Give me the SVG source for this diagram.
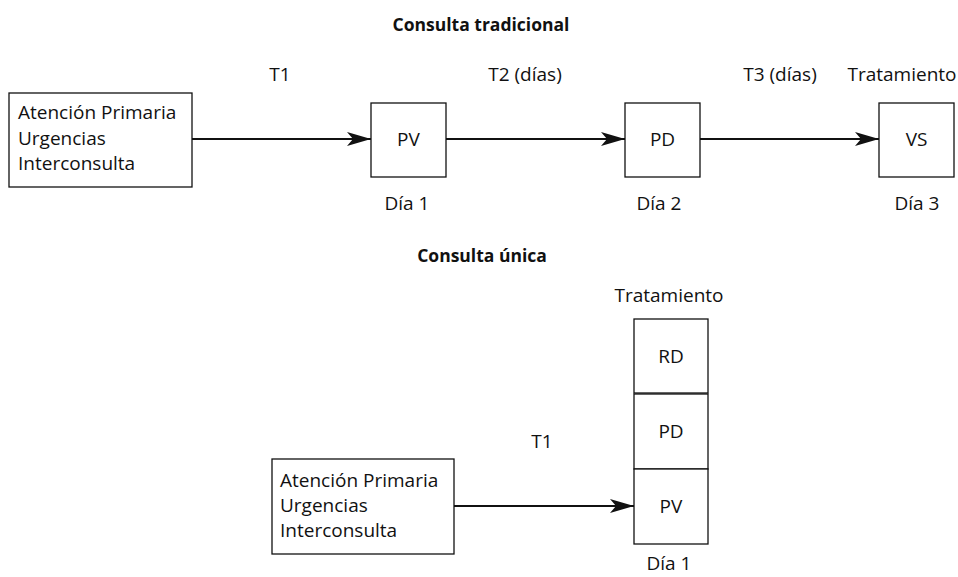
<svg xmlns="http://www.w3.org/2000/svg" width="958" height="577" viewBox="0 0 958 577">
<style>
  text { font-family: "Open Sans", "Liberation Sans", sans-serif; font-size: 19px; fill: #111; }
  .title { font-weight: bold; font-size: 17.5px; text-anchor: middle; }
  .c { text-anchor: middle; }
  .box { fill: #fff; stroke: #111; stroke-width: 1.3; }
  .conn { stroke: #111; stroke-width: 2.2; fill: none; marker-end: url(#arr); }
</style>
<defs>
  <marker id="arr" markerWidth="24" markerHeight="14" refX="24" refY="7" orient="auto" markerUnits="userSpaceOnUse">
    <path d="M0,0 L24,7 L0,14 L6,7 Z" fill="#111"/>
  </marker>
</defs>
<rect width="958" height="577" fill="#fff"/>

<text class="title" x="481" y="31">Consulta tradicional</text>
<text class="title" x="482" y="262">Consulta única</text>

<g id="connectors">
  <line class="conn" x1="192" y1="139" x2="371" y2="139"/>
  <line class="conn" x1="446" y1="139" x2="625" y2="139"/>
  <line class="conn" x1="700" y1="139" x2="879" y2="139"/>
  <line class="conn" x1="454" y1="506" x2="634" y2="506"/>
</g>
<g id="edge-labels">
  <text class="c" x="280" y="81">T1</text>
  <text class="c" x="525" y="81">T2 (días)</text>
  <text class="c" x="780" y="81">T3 (días)</text>
  <text class="c" x="542" y="448">T1</text>
</g>

<g id="origen1">
  <rect class="box" x="9" y="93" width="183" height="94"/>
  <text x="18" y="119">Atención Primaria</text>
  <text x="18" y="145">Urgencias</text>
  <text x="18" y="170">Interconsulta</text>
</g>
<g id="pv1">
  <rect class="box" x="371" y="103" width="75" height="74"/>
  <text class="c" x="408.5" y="146">PV</text>
  <text class="c" x="407" y="210">Día 1</text>
</g>
<g id="pd1">
  <rect class="box" x="625" y="103" width="75" height="74"/>
  <text class="c" x="662.5" y="146">PD</text>
  <text class="c" x="659" y="210">Día 2</text>
</g>
<g id="vs1">
  <rect class="box" x="879" y="103" width="75" height="74"/>
  <text class="c" x="916.5" y="146">VS</text>
  <text class="c" x="902" y="81">Tratamiento</text>
  <text class="c" x="917" y="210">Día 3</text>
</g>

<g id="origen2">
  <rect class="box" x="272" y="459" width="182" height="95"/>
  <text x="280" y="487">Atención Primaria</text>
  <text x="280" y="512">Urgencias</text>
  <text x="280" y="537">Interconsulta</text>
</g>
<g id="stack">
  <text class="c" x="669" y="302">Tratamiento</text>
  <g id="rd2">
    <rect class="box" x="634" y="319" width="74" height="74"/>
    <text class="c" x="671" y="363">RD</text>
  </g>
  <g id="pd2">
    <rect class="box" x="634" y="394" width="74" height="75"/>
    <text class="c" x="671" y="438">PD</text>
  </g>
  <g id="pv2">
    <rect class="box" x="634" y="469" width="74" height="75"/>
    <text class="c" x="671" y="513">PV</text>
  </g>
  <text class="c" x="669" y="570">Día 1</text>
</g>
</svg>
